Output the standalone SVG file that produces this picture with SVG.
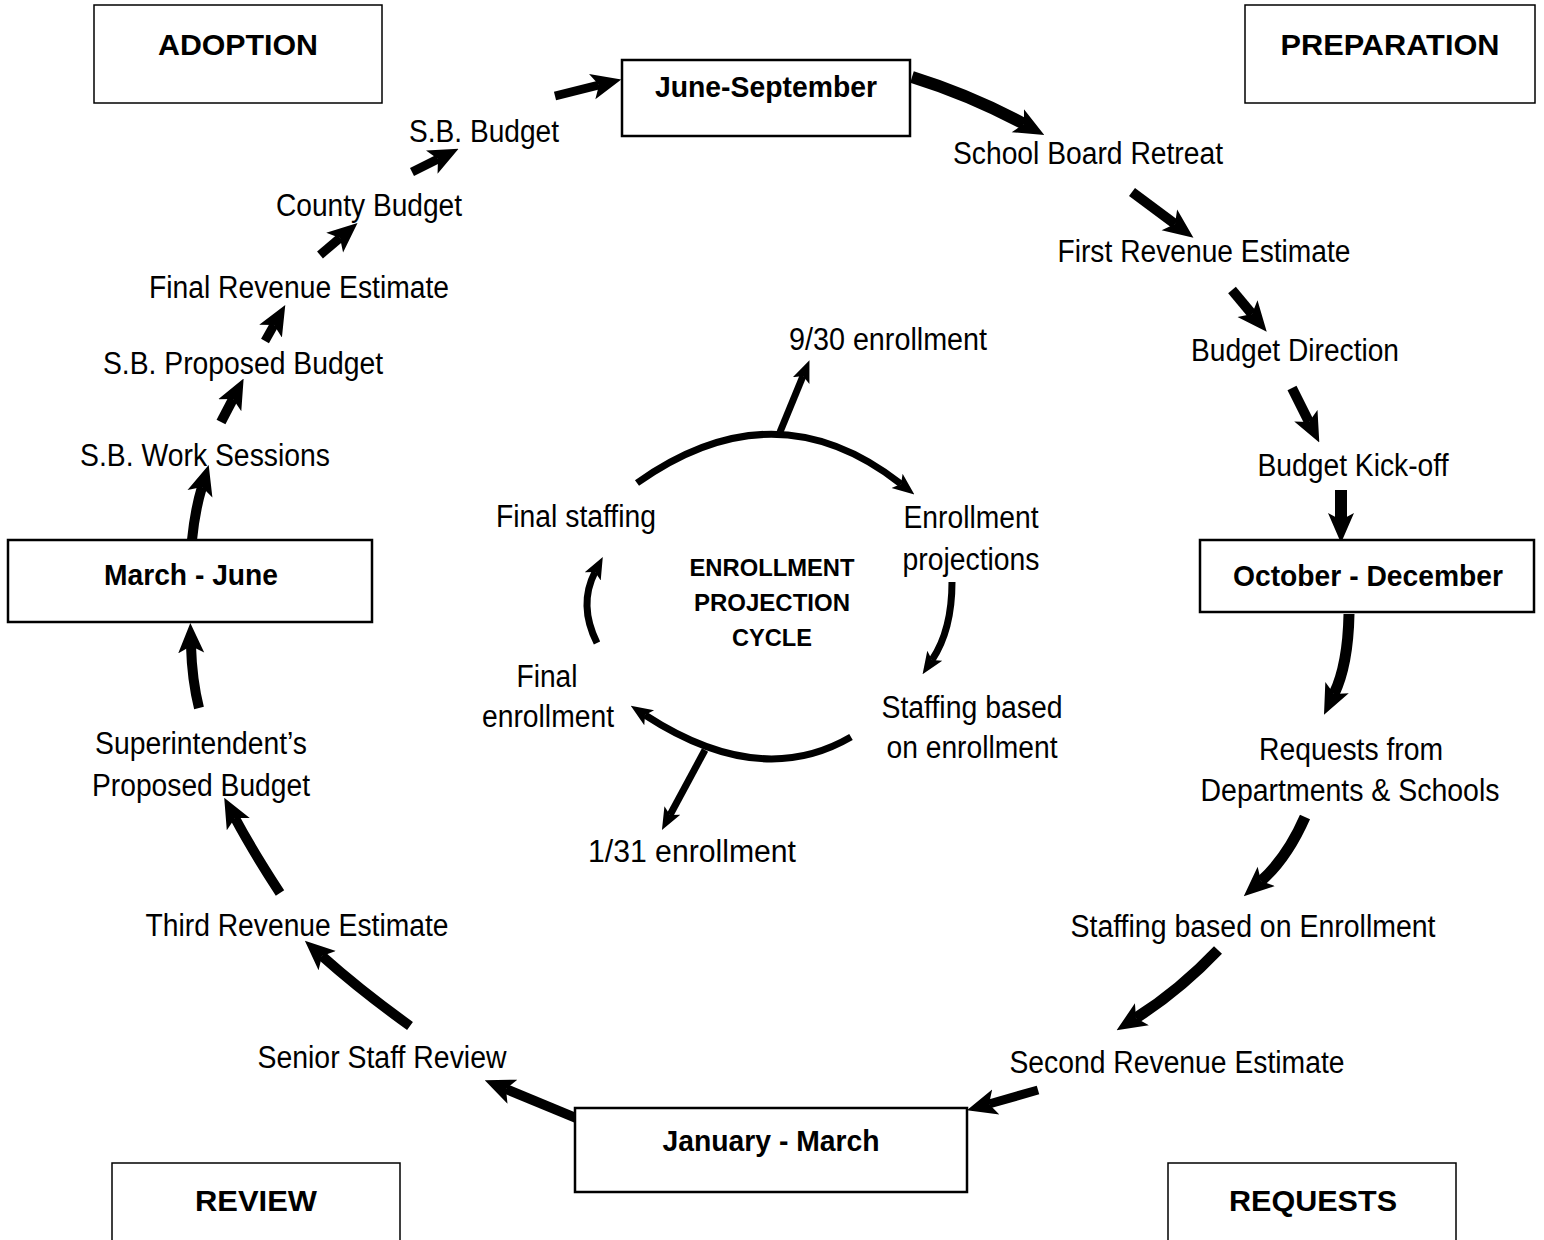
<svg xmlns="http://www.w3.org/2000/svg" width="1544" height="1240" viewBox="0 0 1544 1240">
<style>
.t{font-family:"Liberation Sans",Arial,sans-serif;font-size:31px;fill:#000;text-anchor:middle}
.b{font-family:"Liberation Sans",Arial,sans-serif;font-size:30px;font-weight:bold;fill:#000;text-anchor:middle}
.c{font-family:"Liberation Sans",Arial,sans-serif;font-size:23px;font-weight:bold;fill:#000;text-anchor:middle}
.box{fill:#fff;stroke:#000;stroke-width:2.5}
.cbox{fill:#fff;stroke:#000;stroke-width:1.5}
.a{fill:none;stroke:#000;stroke-linecap:butt;marker-end:url(#hb)}
.s{fill:none;stroke:#000;stroke-width:7;stroke-linecap:butt;marker-end:url(#hs)}
</style>
<defs>
<marker id="hb" viewBox="0 0 30 28" refX="7" refY="14" markerWidth="30" markerHeight="28" markerUnits="userSpaceOnUse" orient="auto">
<path d="M0,1 L30,14 L0,27 L7,14 Z" fill="#000"/>
</marker>
<marker id="hs" viewBox="0 0 22 20" refX="5" refY="10" markerWidth="22" markerHeight="20" markerUnits="userSpaceOnUse" orient="auto">
<path d="M0,1 L22,10 L0,19 L5,10 Z" fill="#000"/>
</marker>
</defs>
<rect width="1544" height="1240" fill="#fff"/>

<g id="connectors">
<path class="a" stroke-width="9" d="M555,96 L599,85"/>
<path class="a" stroke-width="12" d="M912,77 Q970,95 1024,124"/>
<path class="a" stroke-width="10" d="M1132,192 L1175,224"/>
<path class="a" stroke-width="10" d="M1232,290 L1252,314"/>
<path class="a" stroke-width="10" d="M1292,388 L1309,422"/>
<path class="a" stroke-width="12" d="M1341,490 L1341,520"/>
<path class="a" stroke-width="11" d="M1349,614 Q1348,665 1334,694"/>
<path class="a" stroke-width="11" d="M1305,817 Q1287,858 1261,881"/>
<path class="a" stroke-width="11" d="M1218,950 Q1180,990 1136,1018"/>
<path class="a" stroke-width="9" d="M1038,1090 L989,1104"/>
<path class="a" stroke-width="10" d="M576,1118 L506,1089"/>
<path class="a" stroke-width="10" d="M410,1026 Q360,990 322,956"/>
<path class="a" stroke-width="10" d="M280,893 Q252,850 235,818"/>
<path class="a" stroke-width="10" d="M199,708 Q192,680 191,646"/>
<path class="a" stroke-width="10" d="M192,540 Q195,510 202,487"/>
<path class="a" stroke-width="10" d="M221,422 L233,399"/>
<path class="a" stroke-width="9" d="M265,341 L274,325"/>
<path class="a" stroke-width="9" d="M320,255 L340,238"/>
<path class="a" stroke-width="9" d="M412,172 L438,159"/>
<path class="s" d="M637,483 Q775,385 901,484"/>
<path class="s" d="M780,432 L803,376"/>
<path class="s" d="M952,582 Q952,630 932,660"/>
<path class="s" d="M851,737 Q760,790 645,715"/>
<path class="s" d="M705,750 L670,815"/>
<path class="s" d="M597,643 Q578,605 595,572"/>
</g>

<g id="adoption"><rect class="cbox" x="94" y="5" width="288" height="98"/><text class="b" x="238" y="55" textLength="160" lengthAdjust="spacingAndGlyphs">ADOPTION</text></g>
<g id="preparation"><rect class="cbox" x="1245" y="5" width="290" height="98"/><text class="b" x="1390" y="55" textLength="219" lengthAdjust="spacingAndGlyphs">PREPARATION</text></g>
<g id="review"><rect class="cbox" x="112" y="1163" width="288" height="90"/><text class="b" x="256" y="1211" textLength="122" lengthAdjust="spacingAndGlyphs">REVIEW</text></g>
<g id="requests"><rect class="cbox" x="1168" y="1163" width="288" height="90"/><text class="b" x="1313" y="1211" textLength="168" lengthAdjust="spacingAndGlyphs">REQUESTS</text></g>

<g id="june-september"><rect class="box" x="622" y="60" width="288" height="76" stroke-width="3"/><text class="b" x="766" y="97" textLength="222" lengthAdjust="spacingAndGlyphs">June-September</text></g>
<g id="october-december"><rect class="box" x="1200" y="540" width="334" height="72"/><text class="b" x="1368" y="586" textLength="270" lengthAdjust="spacingAndGlyphs">October - December</text></g>
<g id="march-june"><rect class="box" x="8" y="540" width="364" height="82"/><text class="b" x="191" y="585" textLength="174" lengthAdjust="spacingAndGlyphs">March - June</text></g>
<g id="january-march"><rect class="box" x="575" y="1108" width="392" height="84"/><text class="b" x="771" y="1151" textLength="217" lengthAdjust="spacingAndGlyphs">January - March</text></g>

<g id="sb-budget"><text class="t" x="484" y="142" textLength="150" lengthAdjust="spacingAndGlyphs">S.B. Budget</text></g>
<g id="school-board-retreat"><text class="t" x="1088" y="164" textLength="270" lengthAdjust="spacingAndGlyphs">School Board Retreat</text></g>
<g id="county-budget"><text class="t" x="369" y="216" textLength="186" lengthAdjust="spacingAndGlyphs">County Budget</text></g>
<g id="first-revenue-estimate"><text class="t" x="1204" y="262" textLength="293" lengthAdjust="spacingAndGlyphs">First Revenue Estimate</text></g>
<g id="final-revenue-estimate"><text class="t" x="299" y="298" textLength="300" lengthAdjust="spacingAndGlyphs">Final Revenue Estimate</text></g>
<g id="budget-direction"><text class="t" x="1295" y="361" textLength="208" lengthAdjust="spacingAndGlyphs">Budget Direction</text></g>
<g id="sb-proposed-budget"><text class="t" x="243" y="374" textLength="280" lengthAdjust="spacingAndGlyphs">S.B. Proposed Budget</text></g>
<g id="sb-work-sessions"><text class="t" x="205" y="466" textLength="250" lengthAdjust="spacingAndGlyphs">S.B. Work Sessions</text></g>
<g id="budget-kickoff"><text class="t" x="1353" y="476" textLength="191" lengthAdjust="spacingAndGlyphs">Budget Kick-off</text></g>
<g id="requests-from-departments"><text class="t" x="1351" y="760" textLength="184" lengthAdjust="spacingAndGlyphs">Requests from</text><text class="t" x="1350" y="801" textLength="299" lengthAdjust="spacingAndGlyphs">Departments &amp; Schools</text></g>
<g id="staffing-based-on-enrollment-outer"><text class="t" x="1253" y="937" textLength="365" lengthAdjust="spacingAndGlyphs">Staffing based on Enrollment</text></g>
<g id="second-revenue-estimate"><text class="t" x="1177" y="1073" textLength="335" lengthAdjust="spacingAndGlyphs">Second Revenue Estimate</text></g>
<g id="senior-staff-review"><text class="t" x="382" y="1068" textLength="249" lengthAdjust="spacingAndGlyphs">Senior Staff Review</text></g>
<g id="third-revenue-estimate"><text class="t" x="297" y="936" textLength="303" lengthAdjust="spacingAndGlyphs">Third Revenue Estimate</text></g>
<g id="superintendents-proposed-budget"><text class="t" x="201" y="754" textLength="212" lengthAdjust="spacingAndGlyphs">Superintendent’s</text><text class="t" x="201" y="796" textLength="218" lengthAdjust="spacingAndGlyphs">Proposed Budget</text></g>

<g id="enrollment-projection-cycle"><text class="c" x="772" y="576" textLength="165" lengthAdjust="spacingAndGlyphs">ENROLLMENT</text><text class="c" x="772" y="611" textLength="156" lengthAdjust="spacingAndGlyphs">PROJECTION</text><text class="c" x="772" y="646" textLength="80" lengthAdjust="spacingAndGlyphs">CYCLE</text></g>
<g id="enroll-930"><text class="t" x="888" y="350" textLength="198" lengthAdjust="spacingAndGlyphs">9/30 enrollment</text></g>
<g id="enrollment-projections"><text class="t" x="971" y="528" textLength="135" lengthAdjust="spacingAndGlyphs">Enrollment</text><text class="t" x="971" y="570" textLength="137" lengthAdjust="spacingAndGlyphs">projections</text></g>
<g id="final-staffing"><text class="t" x="576" y="527" textLength="160" lengthAdjust="spacingAndGlyphs">Final staffing</text></g>
<g id="staffing-based-on-enrollment-inner"><text class="t" x="972" y="718" textLength="181" lengthAdjust="spacingAndGlyphs">Staffing based</text><text class="t" x="972" y="758" textLength="171" lengthAdjust="spacingAndGlyphs">on enrollment</text></g>
<g id="final-enrollment"><text class="t" x="547" y="687" textLength="61" lengthAdjust="spacingAndGlyphs">Final</text><text class="t" x="548" y="727" textLength="132" lengthAdjust="spacingAndGlyphs">enrollment</text></g>
<g id="enroll-131"><text class="t" x="692" y="862" textLength="208" lengthAdjust="spacingAndGlyphs">1/31 enrollment</text></g>
</svg>
